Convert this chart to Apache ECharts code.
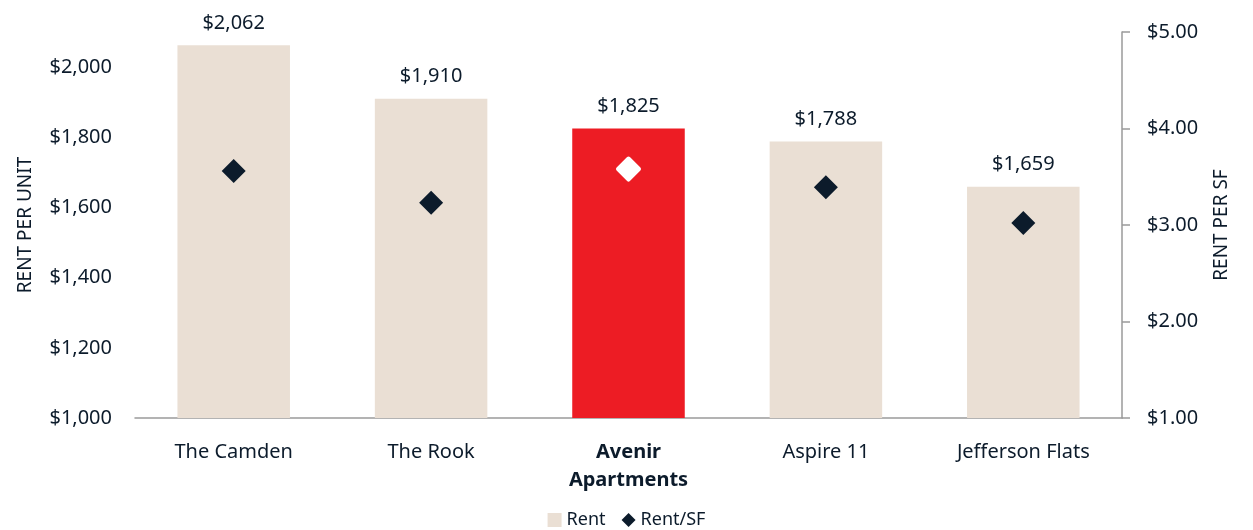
<!DOCTYPE html>
<html lang="en">

<head>
    <meta charset="UTF-8">
    <title>Rent comparison</title>
    <script src="https://cdn.jsdelivr.net/npm/echarts@6/dist/echarts.min.js"></script>
    <style>
        html, body { margin: 0; padding: 0; background: #fff; }
        #main { width: 1253px; height: 530px; }
    </style>
</head>

<body>
    <div id="main"></div>
    <script>
        // data
        var properties = ['The Camden', 'The Rook', 'Avenir\nApartments', 'Aspire 11', 'Jefferson Flats'];
        var rentPerUnit = [2062, 1910, 1825, 1788, 1659];
        var rentPerSf = [3.56, 3.23, 3.58, 3.39, 3.02];
        var subjectIndex = 2; // Avenir is the subject property

        var ink = '#0c1b2b';
        var beige = '#eadfd4';
        var red = '#ed1c24';
        var font = 'Noto Sans';

        function money(v) {
            return '$' + v.toLocaleString('en-US');
        }

        var myChart = echarts.init(document.getElementById('main'));

        var option = {
            textStyle: { fontFamily: font, color: ink },
            legend: {
                top: 506,
                left: 'center',
                itemWidth: 14,
                itemHeight: 14,
                itemGap: 16,
                textStyle: { fontFamily: font, fontSize: 18, color: ink },
                data: [
                    { name: 'Rent', icon: 'rect' },
                    { name: 'Rent/SF', icon: 'diamond' }
                ]
            },
            grid: { left: 135, right: 131, top: 32, bottom: 112 },
            xAxis: {
                type: 'category',
                data: properties.map(function (p, i) {
                    return i === subjectIndex ? { value: p, textStyle: { fontWeight: 'bold' } } : p;
                }),
                axisLine: { lineStyle: { color: '#9a9a9a', width: 1.5 } },
                axisTick: { show: false },
                axisLabel: {
                    margin: 20,
                    fontSize: 20,
                    lineHeight: 28,
                    color: ink,
                    fontFamily: font,
                    interval: 0
                }
            },
            yAxis: [{
                type: 'value',
                min: 1000,
                max: 2100,
                interval: 200,
                name: 'RENT PER UNIT',
                nameLocation: 'middle',
                nameGap: 100,
                nameTextStyle: { fontSize: 19, color: ink, fontFamily: font },
                axisLine: { show: false },
                axisTick: { show: false },
                splitLine: { show: false },
                axisLabel: {
                    showMaxLabel: false,
                    margin: 23,
                    fontSize: 20,
                    color: ink,
                    fontFamily: font,
                    formatter: function (v) { return money(v); }
                }
            }, {
                type: 'value',
                min: 1,
                max: 5,
                interval: 1,
                name: 'RENT PER SF',
                nameLocation: 'middle',
                nameGap: 90,
                nameTextStyle: { fontSize: 19, color: ink, fontFamily: font },
                axisLine: { show: true, lineStyle: { color: '#9a9a9a', width: 1.5 } },
                axisTick: { show: true, length: 8, lineStyle: { color: '#9a9a9a', width: 1.5 } },
                splitLine: { show: false },
                axisLabel: {
                    margin: 25,
                    fontSize: 20,
                    color: ink,
                    fontFamily: font,
                    formatter: function (v) { return '$' + v.toFixed(2); }
                }
            }],
            series: [{
                name: 'Rent',
                type: 'bar',
                barWidth: '57%',
                itemStyle: { color: beige },
                data: rentPerUnit.map(function (v, i) {
                    return i === subjectIndex ? { value: v, itemStyle: { color: red } } : v;
                }),
                label: {
                    show: true,
                    position: 'top',
                    distance: 12,
                    fontSize: 20,
                    color: ink,
                    fontFamily: font,
                    formatter: function (p) { return money(p.value); }
                }
            }, {
                name: 'Rent/SF',
                type: 'scatter',
                yAxisIndex: 1,
                symbol: 'diamond',
                symbolSize: 24,
                itemStyle: { color: ink, opacity: 1 },
                data: rentPerSf.map(function (v, i) {
                    return i === subjectIndex ? {
                        value: v,
                        symbolSize: 21,
                        itemStyle: { color: '#fff', opacity: 1, borderColor: '#fff', borderWidth: 4, borderJoin: 'round' }
                    } : v;
                })
            }]
        };

        myChart.setOption(option);
    </script>
</body>

</html>
